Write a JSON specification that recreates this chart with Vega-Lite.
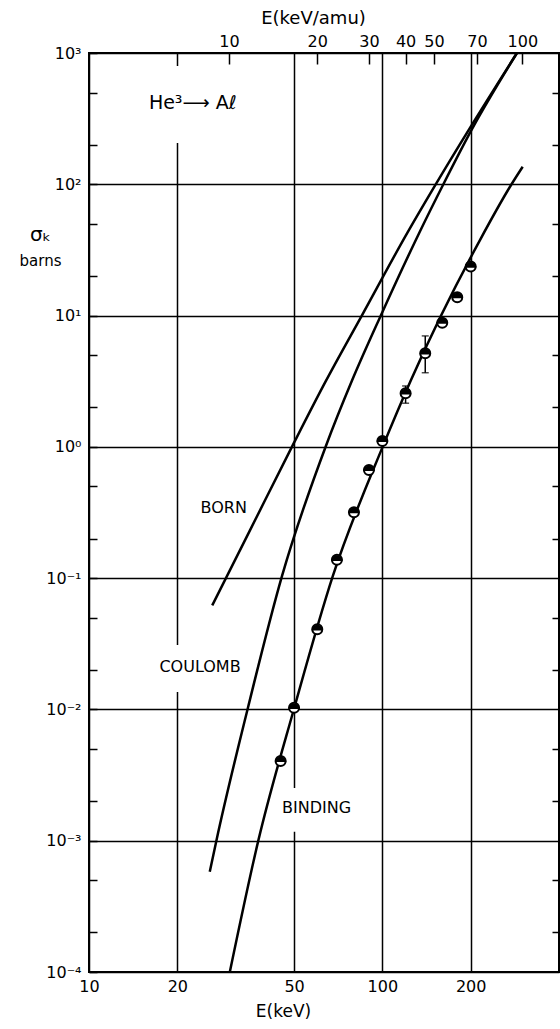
{
  "$schema": "https://vega.github.io/schema/vega-lite/v6.json",
  "width": 470,
  "height": 919,
  "autosize": {"type": "none"},
  "padding": {"left": 89, "top": 53, "right": 1, "bottom": 57},
  "background": "white",
  "config": {
    "view": {"stroke": "black", "strokeWidth": 2},
    "axis": {
      "labelFont": "DejaVu Sans",
      "titleFont": "DejaVu Sans",
      "labelColor": "black",
      "titleColor": "black",
      "tickColor": "black",
      "domain": false,
      "gridColor": "black",
      "gridWidth": 1.5,
      "tickWidth": 1.5,
      "labelOverlap": false,
      "labelFlush": false,
      "labelBound": false,
      "titleFontWeight": "normal",
      "labelFontSize": 16
    },
    "text": {"font": "DejaVu Sans"}
  },
  "datasets": {
    "gaps": [
      {"E0": 15.5, "E1": 35.3, "s0": 206, "s1": 796},
      {"E0": 16.1, "E1": 35.4, "s0": 0.0136, "s1": 0.031},
      {"E0": 42.1, "E1": 85.1, "s0": 0.00117, "s1": 0.00252}
    ],
    "curves": [
      {"curve": "BORN", "E": 26.3, "sigma": 0.062},
      {"curve": "BORN", "E": 35.4, "sigma": 0.232},
      {"curve": "BORN", "E": 49.6, "sigma": 1.04},
      {"curve": "BORN", "E": 64.2, "sigma": 3.18},
      {"curve": "BORN", "E": 85.2, "sigma": 10.05},
      {"curve": "BORN", "E": 122.3, "sigma": 43.6},
      {"curve": "BORN", "E": 151.1, "sigma": 97.7},
      {"curve": "BORN", "E": 198.9, "sigma": 269},
      {"curve": "BORN", "E": 287.6, "sigma": 1000},
      {"curve": "COULOMB", "E": 25.8, "sigma": 0.00058},
      {"curve": "COULOMB", "E": 27.2, "sigma": 0.00101},
      {"curve": "COULOMB", "E": 34.8, "sigma": 0.01026},
      {"curve": "COULOMB", "E": 45.5, "sigma": 0.104},
      {"curve": "COULOMB", "E": 64.2, "sigma": 1.016},
      {"curve": "COULOMB", "E": 78.8, "sigma": 3.2},
      {"curve": "COULOMB", "E": 98.9, "sigma": 10.07},
      {"curve": "COULOMB", "E": 134.4, "sigma": 43.9},
      {"curve": "COULOMB", "E": 162.2, "sigma": 102.3},
      {"curve": "COULOMB", "E": 202, "sigma": 263},
      {"curve": "COULOMB", "E": 287.6, "sigma": 1000},
      {"curve": "BINDING", "E": 30.2, "sigma": 0.0001},
      {"curve": "BINDING", "E": 37.8, "sigma": 0.00101},
      {"curve": "BINDING", "E": 50.1, "sigma": 0.0103},
      {"curve": "BINDING", "E": 67.8, "sigma": 0.104},
      {"curve": "BINDING", "E": 100.2, "sigma": 1.0},
      {"curve": "BINDING", "E": 125.2, "sigma": 3.23},
      {"curve": "BINDING", "E": 215.1, "sigma": 37.6},
      {"curve": "BINDING", "E": 275.9, "sigma": 100.5},
      {"curve": "BINDING", "E": 300.8, "sigma": 136}
    ],
    "points": [
      {"E": 45, "sigma": 0.00405},
      {"E": 50, "sigma": 0.0103},
      {"E": 60, "sigma": 0.0408},
      {"E": 70, "sigma": 0.138},
      {"E": 80, "sigma": 0.318},
      {"E": 90, "sigma": 0.667},
      {"E": 100, "sigma": 1.11},
      {"E": 120, "sigma": 2.56},
      {"E": 140, "sigma": 5.16},
      {"E": 160, "sigma": 8.83},
      {"E": 180, "sigma": 13.8},
      {"E": 200, "sigma": 23.6}
    ],
    "errors": [
      {"E": 120, "lo": 2.15, "hi": 2.91},
      {"E": 140, "lo": 3.67, "hi": 7.0}
    ],
    "labels": [
      {"text": "BORN", "E": 28.8, "sigma": 0.343},
      {"text": "COULOMB", "E": 23.9, "sigma": 0.0209},
      {"text": "BINDING", "E": 59.7, "sigma": 0.00178}
    ],
    "reaction": [
      {"text": "He³⟶ Aℓ", "E": 16.0, "sigma": 373}
    ]
  },
  "layer": [
    {
      "data": {"name": "gaps"},
      "mark": {"type": "rect", "fill": "white", "strokeWidth": 0},
      "encoding": {
        "x": {
          "field": "E0", "type": "quantitative",
          "scale": {"type": "log", "domain": [10, 400]},
          "axis": {
            "orient": "bottom",
            "values": [10, 20, 50, 100, 200],
            "labelExpr": "format(datum.value, 'd')",
            "grid": true,
            "ticks": false,
            "labelPadding": 6,
            "title": "E(keV)",
            "titleFontSize": 17,
            "titleX": 194,
            "titleY": 39,
            "titleBaseline": "middle",
            "titleAlign": "center"
          }
        },
        "x2": {"field": "E1"},
        "y": {
          "field": "s0", "type": "quantitative",
          "scale": {"type": "log", "domain": [0.0001, 1000]},
          "axis": {
            "orient": "left",
            "values": [0.0001, 0.0002, 0.0005, 0.001, 0.002, 0.005, 0.01, 0.02, 0.05, 0.1, 0.2, 0.5, 1, 2, 5, 10, 20, 50, 100, 200, 500, 1000],
            "labelExpr": "abs(log(datum.value)/LN10 - round(log(datum.value)/LN10)) < 0.01 ? '10' + ['⁻⁴','⁻³','⁻²','⁻¹','⁰','¹','²','³'][round(log(datum.value)/LN10)+4] : ''",
            "grid": true,
            "gridOpacity": {"condition": {"test": "abs(log(datum.value)/LN10 - round(log(datum.value)/LN10)) < 0.01", "value": 1}, "value": 0},
            "tickSize": -8,
            "labelPadding": 16,
            "title": "σₖ",
            "titleFontSize": 20,
            "titleAngle": 0,
            "titleAlign": "center",
            "titleBaseline": "alphabetic",
            "titleX": -49,
            "titleY": 187
          }
        },
        "y2": {"field": "s1"}
      }
    },
    {
      "data": {"name": "curves"},
      "mark": {"type": "line", "color": "black", "strokeWidth": 2.5, "interpolate": "monotone"},
      "encoding": {
        "x": {
          "field": "E", "type": "quantitative",
          "scale": {"type": "log", "domain": [10, 400]},
          "axis": {
            "orient": "top",
            "values": [30, 60, 90, 120, 150, 210, 300],
            "labelExpr": "format(datum.value/3, 'd')",
            "grid": false,
            "tickSize": -11,
            "labelPadding": 15,
            "title": "E(keV/amu)",
            "titleFontSize": 18,
            "titleX": 224,
            "titleY": -35,
            "titleBaseline": "middle",
            "titleAlign": "center"
          }
        },
        "y": {
          "field": "sigma", "type": "quantitative",
          "scale": {"type": "log", "domain": [0.0001, 1000]},
          "axis": {
            "orient": "right",
            "values": [0.0002, 0.0005, 0.002, 0.005, 0.02, 0.05, 0.2, 0.5, 2, 5, 20, 50, 200, 500],
            "labels": false,
            "grid": false,
            "tickSize": -7,
            "title": "barns",
            "titleFontSize": 15,
            "titleAngle": 0,
            "titleAlign": "center",
            "titleBaseline": "alphabetic",
            "titleX": -519,
            "titleY": 212
          }
        },
        "detail": {"field": "curve"},
        "order": {"field": "E"}
      }
    },
    {
      "data": {"name": "errors"},
      "mark": {"type": "rule", "color": "black", "strokeWidth": 1.5},
      "encoding": {
        "x": {"field": "E", "type": "quantitative", "scale": {"type": "log", "domain": [10, 400]}, "axis": null},
        "y": {"field": "lo", "type": "quantitative", "scale": {"type": "log", "domain": [0.0001, 1000]}, "axis": null},
        "y2": {"field": "hi"}
      }
    },
    {
      "data": {"name": "errors"},
      "transform": [{"fold": ["lo", "hi"], "as": ["end", "val"]}],
      "mark": {"type": "tick", "orient": "horizontal", "color": "black", "size": 7, "thickness": 1.5},
      "encoding": {
        "x": {"field": "E", "type": "quantitative", "scale": {"type": "log", "domain": [10, 400]}, "axis": null},
        "y": {"field": "val", "type": "quantitative", "scale": {"type": "log", "domain": [0.0001, 1000]}, "axis": null}
      }
    },
    {
      "data": {"name": "points"},
      "mark": {"type": "point", "shape": "circle", "filled": true, "fill": "white", "stroke": "black", "strokeWidth": 2, "size": 100, "opacity": 1},
      "encoding": {
        "x": {"field": "E", "type": "quantitative", "scale": {"type": "log", "domain": [10, 400]}, "axis": null},
        "y": {"field": "sigma", "type": "quantitative", "scale": {"type": "log", "domain": [0.0001, 1000]}, "axis": null}
      }
    },
    {
      "data": {"name": "points"},
      "mark": {"type": "point", "shape": "M-1,0.2A1,1 0 1,1 1,0.2Z", "filled": true, "fill": "black", "strokeWidth": 0, "size": 130, "opacity": 1},
      "encoding": {
        "x": {"field": "E", "type": "quantitative", "scale": {"type": "log", "domain": [10, 400]}, "axis": null},
        "y": {"field": "sigma", "type": "quantitative", "scale": {"type": "log", "domain": [0.0001, 1000]}, "axis": null}
      }
    },
    {
      "data": {"name": "labels"},
      "mark": {"type": "text", "color": "black", "fontSize": 16, "align": "center", "baseline": "middle"},
      "encoding": {
        "x": {"field": "E", "type": "quantitative", "scale": {"type": "log", "domain": [10, 400]}, "axis": null},
        "y": {"field": "sigma", "type": "quantitative", "scale": {"type": "log", "domain": [0.0001, 1000]}, "axis": null},
        "text": {"field": "text"}
      }
    },
    {
      "data": {"name": "reaction"},
      "mark": {"type": "text", "color": "black", "fontSize": 19, "align": "left", "baseline": "alphabetic"},
      "encoding": {
        "x": {"field": "E", "type": "quantitative", "scale": {"type": "log", "domain": [10, 400]}, "axis": null},
        "y": {"field": "sigma", "type": "quantitative", "scale": {"type": "log", "domain": [0.0001, 1000]}, "axis": null},
        "text": {"field": "text"}
      }
    }
  ],
  "resolve": {"axis": {"x": "independent", "y": "independent"}}
}
